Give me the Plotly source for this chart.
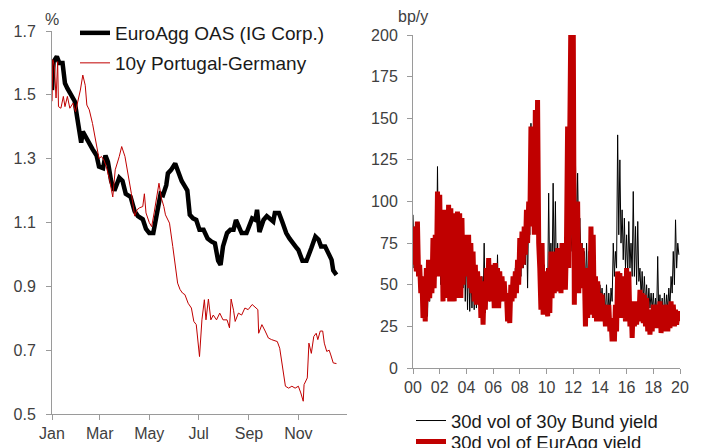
import plotly.graph_objects as go
import pandas as pd

FONT = "Arial, Liberation Sans, sans-serif"
TXT = "#404040"
AX = "#9a9a9a"
RED = "#C00000"

# ---------------- left panel data (one calendar year, %) ----------------
YEAR = "2019"
oas_dates = ["01-01","01-03","01-07","01-10","01-14","01-17","01-20","01-25","01-29","02-01",
             "02-04","02-06","02-08","02-11","02-15","02-20","02-25","02-28","03-05","03-08",
             "03-11","03-15","03-19","03-25","03-29","04-02","04-08","04-13","04-17","04-23",
             "04-27","05-01","05-06","05-10","05-15","05-18","05-22","05-24","05-28","06-02",
             "06-06","06-10","06-14","06-17","06-20","06-24","06-28","07-02","07-07","07-12",
             "07-17","07-21","07-25","07-28","07-31","08-05","08-09","08-13","08-16","08-19",
             "08-23","08-29","09-02","09-05","09-09","09-11","09-14","09-19","09-23","09-27",
             "10-01","10-03","10-08","10-12","10-17","10-21","10-26","10-30","11-01","11-06",
             "11-11","11-14","11-17","11-22","11-26","11-29","12-04","12-08","12-12","12-14",
             "12-18"]
oas_values = [1.515,1.604,1.62,1.60,1.60,1.536,1.52,1.50,1.48,1.43,
              1.39,1.35,1.385,1.37,1.35,1.33,1.31,1.275,1.27,1.31,
              1.29,1.23,1.20,1.24,1.23,1.19,1.18,1.135,1.12,1.11,
              1.08,1.067,1.067,1.13,1.19,1.186,1.217,1.254,1.265,1.285,
              1.254,1.23,1.213,1.20,1.124,1.113,1.108,1.077,1.077,1.05,
              1.04,1.035,0.98,0.967,1.025,1.067,1.077,1.077,1.108,1.087,
              1.067,1.067,1.10,1.113,1.108,1.14,1.07,1.108,1.12,1.113,
              1.103,1.13,1.13,1.103,1.067,1.05,1.03,1.02,1.014,0.98,
              0.98,1.004,1.02,1.056,1.046,1.025,1.025,1.004,0.983,0.95,
              0.936]

pg_dates = ["01-01","01-02","01-04","01-06","01-08","01-09","01-12","01-15","01-17","01-20",
            "01-23","01-27","01-30","02-02","02-05","02-08","02-11","02-13","02-16","02-20",
            "02-22","02-25","02-28","03-03","03-06","03-09","03-13","03-17","03-20","03-25",
            "03-28","04-01","04-05","04-09","04-13","04-16","04-19","04-23","04-25","04-27",
            "05-01","05-04","05-07","05-10","05-13","05-16","05-19","05-21","05-24","05-26",
            "05-30","06-02","06-05","06-08","06-11","06-14","06-18","06-22","06-25","06-28",
            "07-02","07-05","07-08","07-10","07-13","07-16","07-19","07-23","07-27","07-31",
            "08-05","08-08","08-10","08-13","08-15","08-19","08-23","08-27","08-31","09-05",
            "09-09","09-12","09-13","09-17","09-21","09-25","09-29","10-06","10-09","10-12",
            "10-16","10-20","10-24","10-28","11-01","11-04","11-07","11-08","11-12","11-14",
            "11-17","11-20","11-23","11-25","11-28","12-01","12-03","12-06","12-09","12-11",
            "12-14","12-18"]
pg_values = [1.48,1.61,1.59,1.49,1.604,1.463,1.458,1.495,1.463,1.495,
             1.458,1.474,1.447,1.48,1.515,1.562,1.53,1.468,1.453,1.41,
             1.38,1.338,1.30,1.307,1.296,1.275,1.234,1.18,1.265,1.307,
             1.338,1.307,1.254,1.19,1.12,1.14,1.146,1.15,1.19,1.13,
             1.10,1.087,1.13,1.18,1.223,1.176,1.15,1.124,1.108,1.098,
             1.025,0.962,0.91,0.89,0.879,0.874,0.847,0.832,0.79,0.78,
             0.68,0.795,0.858,0.795,0.86,0.795,0.81,0.795,0.816,0.795,
             0.795,0.77,0.86,0.825,0.79,0.816,0.81,0.832,0.827,0.843,
             0.832,0.827,0.753,0.78,0.76,0.738,0.733,0.727,0.706,0.65,
             0.587,0.581,0.587,0.581,0.587,0.566,0.54,0.592,0.613,0.722,
             0.69,0.743,0.753,0.733,0.76,0.76,0.722,0.696,0.70,0.685,
             0.66,0.658]

left_month_ticks = ["Jan", "Mar", "May", "Jul", "Sep", "Nov"]
left_y_ticks = [0.5, 0.7, 0.9, 1.1, 1.3, 1.5, 1.7]

# ---------------- right panel data (monthly, 2000-2019, bp/y) ----------------
vol_start = "2000-01-01"
bund_vol = [
    92, 60, 85, 58, 80, 55, 60, 45, 55, 30, 50, 30,      # 2000
    58, 31, 60, 40, 62, 45, 75, 48, 78, 55, 121, 60,     # 2001
    95, 50, 92, 42, 90, 45, 93, 44, 97, 42, 94, 45,      # 2002
    70, 42, 92, 44, 93, 45, 90, 44, 88, 48, 78, 40,      # 2003
    72, 35, 70, 34, 60, 36, 55, 35, 52, 36, 50, 38,      # 2004
    50, 33, 55, 38, 75, 33, 55, 40, 60, 40, 58, 42,      # 2005
    56, 38, 60, 40, 68, 38, 56, 40, 54, 42, 50, 40,      # 2006
    44, 30, 40, 32, 48, 42, 52, 45, 60, 48, 65, 50,      # 2007
    72, 55, 78, 60, 82, 62, 90, 48, 100, 80, 147, 88,    # 2008
    125, 100, 130, 85, 120, 75, 78, 45, 70, 45, 62, 42,  # 2009
    60, 45, 105, 50, 75, 52, 111, 55, 100, 50, 75, 50,   # 2010
    72, 55, 70, 50, 73, 52, 80, 60, 75, 62, 80, 70,      # 2011
    90, 70, 127, 80, 117, 75, 90, 65, 75, 50, 70, 48,    # 2012
    75, 45, 70, 48, 72, 50, 62, 38, 50, 36, 48, 35,      # 2013
    50, 40, 48, 35, 45, 32, 50, 30, 45, 32, 48, 40,      # 2014
    75, 55, 70, 60, 140, 80, 125, 75, 95, 65, 90, 60,    # 2015
    80, 55, 88, 60, 75, 55, 106, 55, 85, 50, 88, 52,     # 2016
    60, 42, 58, 40, 55, 38, 50, 35, 48, 36, 45, 35,      # 2017
    45, 32, 42, 30, 67, 30, 44, 30, 42, 28, 45, 32,      # 2018
    44, 35, 48, 36, 55, 45, 70, 50, 89, 60, 75, 68,      # 2019
]
euragg_vol = [
    80, 62, 85, 58, 88, 55, 62, 45, 55, 30, 52, 28,      # 2000
    60, 40, 65, 42, 62, 45, 78, 48, 80, 55, 106, 60,     # 2001
    104, 55, 95, 40, 92, 42, 95, 45, 98, 40, 96, 43,     # 2002
    70, 40, 93, 42, 94, 45, 93, 42, 90, 50, 80, 55,      # 2003
    78, 55, 80, 48, 75, 45, 70, 40, 62, 38, 58, 40,      # 2004
    55, 30, 52, 26, 50, 35, 60, 40, 66, 42, 62, 40,      # 2005
    60, 36, 63, 38, 60, 36, 58, 40, 55, 42, 52, 40,      # 2006
    45, 28, 42, 27, 50, 40, 55, 42, 58, 45, 65, 50,      # 2007
    78, 60, 82, 62, 85, 68, 95, 75, 100, 85, 145, 90,    # 2008
    125, 80, 155, 95, 161, 75, 60, 35, 75, 32, 55, 35,   # 2009
    58, 31, 60, 33, 70, 42, 68, 45, 70, 48, 72, 46,      # 2010
    70, 45, 75, 50, 74, 47, 75, 145, 60, 145, 215, 80,   # 2011
    215, 38, 95, 50, 100, 45, 75, 50, 72, 48, 60, 25,    # 2012
    58, 30, 60, 32, 85, 40, 80, 30, 55, 28, 52, 30,      # 2013
    45, 28, 44, 30, 38, 25, 36, 26, 38, 22, 30, 16,      # 2014
    28, 16, 38, 22, 58, 30, 57, 32, 55, 30, 52, 28,      # 2015
    60, 28, 58, 25, 40, 18, 38, 25, 40, 26, 38, 28,      # 2016
    47, 30, 45, 27, 44, 25, 42, 22, 35, 20, 33, 22,      # 2017
    38, 25, 36, 24, 38, 26, 40, 21, 38, 22, 36, 23,      # 2018
    38, 22, 36, 24, 40, 26, 38, 25, 35, 26, 34, 28,      # 2019
]
vol_dates = pd.date_range(vol_start, periods=len(bund_vol), freq="MS")
right_y_ticks = [0, 25, 50, 75, 100, 125, 150, 175, 200]

# ---------------- figure ----------------
fig = go.Figure()

fig.add_trace(go.Scatter(
    x=[f"{YEAR}-{d}" for d in oas_dates], y=oas_values, mode="lines",
    name="EuroAgg OAS (IG Corp.)", line=dict(color="#000000", width=4.5),
    xaxis="x", yaxis="y", legend="legend"))
fig.add_trace(go.Scatter(
    x=[f"{YEAR}-{d}" for d in pg_dates], y=pg_values, mode="lines",
    name="10y Portugal-Germany", line=dict(color=RED, width=1),
    xaxis="x", yaxis="y", legend="legend2"))
fig.add_trace(go.Scatter(
    x=vol_dates, y=bund_vol, mode="lines",
    name="30d vol of 30y Bund yield", line=dict(color="#000000", width=1, simplify=False),
    xaxis="x2", yaxis="y2", legend="legend3"))
fig.add_trace(go.Scatter(
    x=vol_dates, y=euragg_vol, mode="lines",
    name="30d vol of EurAgg yield", line=dict(color=RED, width=5, simplify=False),
    xaxis="x2", yaxis="y2", legend="legend4"))

W, H = 705, 448
def px(x):
    return x / W
def py(y):
    return 1 - y / H

axis_common = dict(showgrid=False, zeroline=False, showline=True, linecolor=AX,
                   linewidth=1, ticks="outside", tickcolor=AX, ticklen=5,
                   tickfont=dict(family=FONT, size=16, color=TXT))

leg_font_l = dict(family=FONT, size=19, color="#1a1a1a")
leg_font_r = dict(family=FONT, size=18.5, color="#1a1a1a")
leg_common = dict(bgcolor="rgba(0,0,0,0)", borderwidth=0, xanchor="left",
                  yanchor="middle", xref="paper", yref="paper", maxheight=2000)

fig.update_layout(
    width=W, height=H,
    margin=dict(l=0, r=0, t=0, b=0, autoexpand=False),
    paper_bgcolor="white", plot_bgcolor="white",
    showlegend=True,
    xaxis=dict(domain=[px(52), px(347)], type="date",
               range=[f"{YEAR}-01-01", f"{YEAR}-12-31"],
               tickvals=[f"{YEAR}-{m:02d}-01" for m in (1, 3, 5, 7, 9, 11)],
               ticktext=left_month_ticks, anchor="y", **axis_common),
    yaxis=dict(domain=[py(414), py(31)], range=[0.5, 1.7],
               tickvals=left_y_ticks, tickformat=".1f", anchor="x",
               ticklabelstandoff=7, **axis_common),
    xaxis2=dict(domain=[px(413), px(680)], type="date",
                range=["2000-01-01", "2020-01-01"], tick0="2000-01-01", dtick="M24",
                tickformat="%y", anchor="y2", **axis_common),
    yaxis2=dict(domain=[py(368), py(35)], range=[0, 200],
                tickvals=right_y_ticks, anchor="x2", ticklabelstandoff=6, **axis_common),
    legend=dict(x=px(75), y=py(33), font=leg_font_l, **leg_common),
    legend2=dict(x=px(75), y=py(63), font=leg_font_l, **leg_common),
    legend3=dict(x=px(411), y=py(421), font=leg_font_r, **leg_common),
    legend4=dict(x=px(411), y=py(442), font=leg_font_r, **leg_common),
    annotations=[
        dict(text="%", x=0, y=1, xref="x domain", yref="y domain", xanchor="center",
             yanchor="bottom", yshift=1, showarrow=False,
             font=dict(family=FONT, size=16, color=TXT)),
        dict(text="bp/y", x=0, y=1, xref="x2 domain", yref="y2 domain", xanchor="center",
             yanchor="bottom", yshift=8, showarrow=False,
             font=dict(family=FONT, size=16, color=TXT)),
    ],
)

fig.write_html("out.html", config={"displayModeBar": False},
               post_script="document.body.style.margin='0';document.body.style.overflow='hidden';")
